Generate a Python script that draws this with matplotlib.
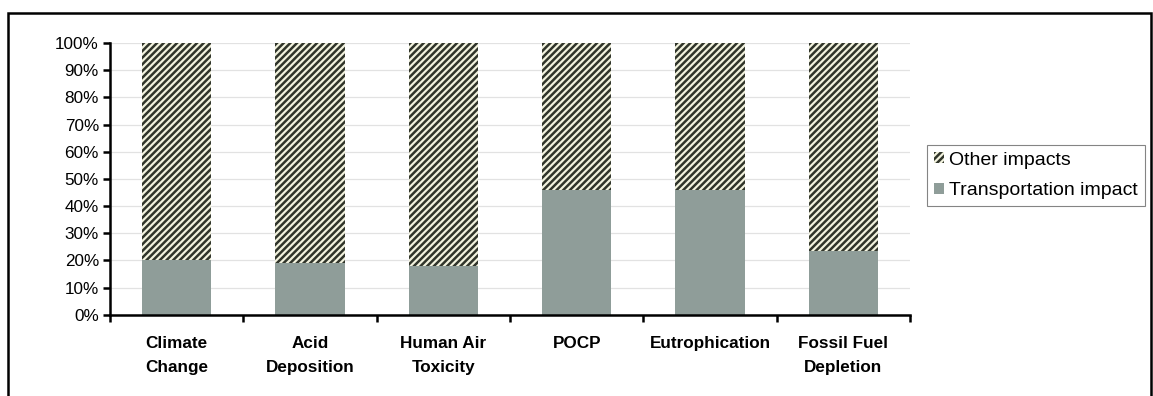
import matplotlib
matplotlib.use("Agg")
import matplotlib.pyplot as plt
from matplotlib.patches import Rectangle
from matplotlib.ticker import PercentFormatter, FixedLocator

# ── data ─────────────────────────────────────────────────────────────────────
categories = ["Climate\nChange", "Acid\nDeposition", "Human Air\nToxicity",
              "POCP", "Eutrophication", "Fossil Fuel\nDepletion"]
transport_share = [0.20, 0.19, 0.18, 0.46, 0.46, 0.235]
other_share = [1.0 - v for v in transport_share]

plt.rcParams["font.family"] = ["Liberation Sans", "DejaVu Sans"]
plt.rcParams["hatch.linewidth"] = 1.8

fig = plt.figure(figsize=(11.53, 3.96), dpi=100)
ax = fig.add_axes([0.0954, 0.205, 0.694, 0.686])

x = list(range(len(categories)))
ax.bar(x, transport_share, width=0.52, color="#8f9d99",
       label="Transportation impact", zorder=2)
ax.bar(x, other_share, width=0.52, bottom=transport_share,
       facecolor="#f2f2de", hatch="/////", edgecolor="#30342a", linewidth=0,
       label="Other impacts", zorder=2)

ax.set_xlim(-0.5, len(categories) - 0.5)
ax.set_ylim(0, 1.0)
ax.yaxis.set_major_locator(FixedLocator([i / 10 for i in range(11)]))
ax.yaxis.set_major_formatter(PercentFormatter(1.0, decimals=0))
ax.grid(axis="y", color="#e2e2e2", linewidth=0.9, zorder=0)
ax.set_axisbelow(True)

# category labels sit between the boundary ticks
ax.set_xticks([i - 0.5 for i in range(len(categories) + 1)])
ax.set_xticklabels([])
ax.set_xticks(x, minor=True)
ax.set_xticklabels(categories, minor=True, fontweight="bold", fontsize=12.3,
                   linespacing=1.8)
ax.tick_params(axis="x", which="minor", length=0, pad=15)
ax.tick_params(axis="x", which="major", length=5, width=1.8, direction="out")
ax.tick_params(axis="y", length=5, width=1.8, direction="out", labelsize=12.3,
               pad=3)

for side in ("top", "right"):
    ax.spines[side].set_visible(False)
for side in ("left", "bottom"):
    ax.spines[side].set_linewidth(1.8)

handles, labels = ax.get_legend_handles_labels()
leg = fig.legend(handles[::-1], labels[::-1], loc="upper left",
                 bbox_to_anchor=(0.804, 0.634), fontsize=14, frameon=True,
                 fancybox=False, edgecolor="#666666", handlelength=0.5,
                 handleheight=0.5, handletextpad=0.3, borderpad=0.35,
                 labelspacing=0.7, borderaxespad=0)
leg.get_frame().set_linewidth(0.8)

# outer frame around the whole chart
fig.patches.append(Rectangle((0.007, -0.05), 0.991, 1.018, transform=fig.transFigure,
                             fill=False, edgecolor="black", linewidth=1.8))

fig.savefig("out.png", dpi=100, facecolor="white")
